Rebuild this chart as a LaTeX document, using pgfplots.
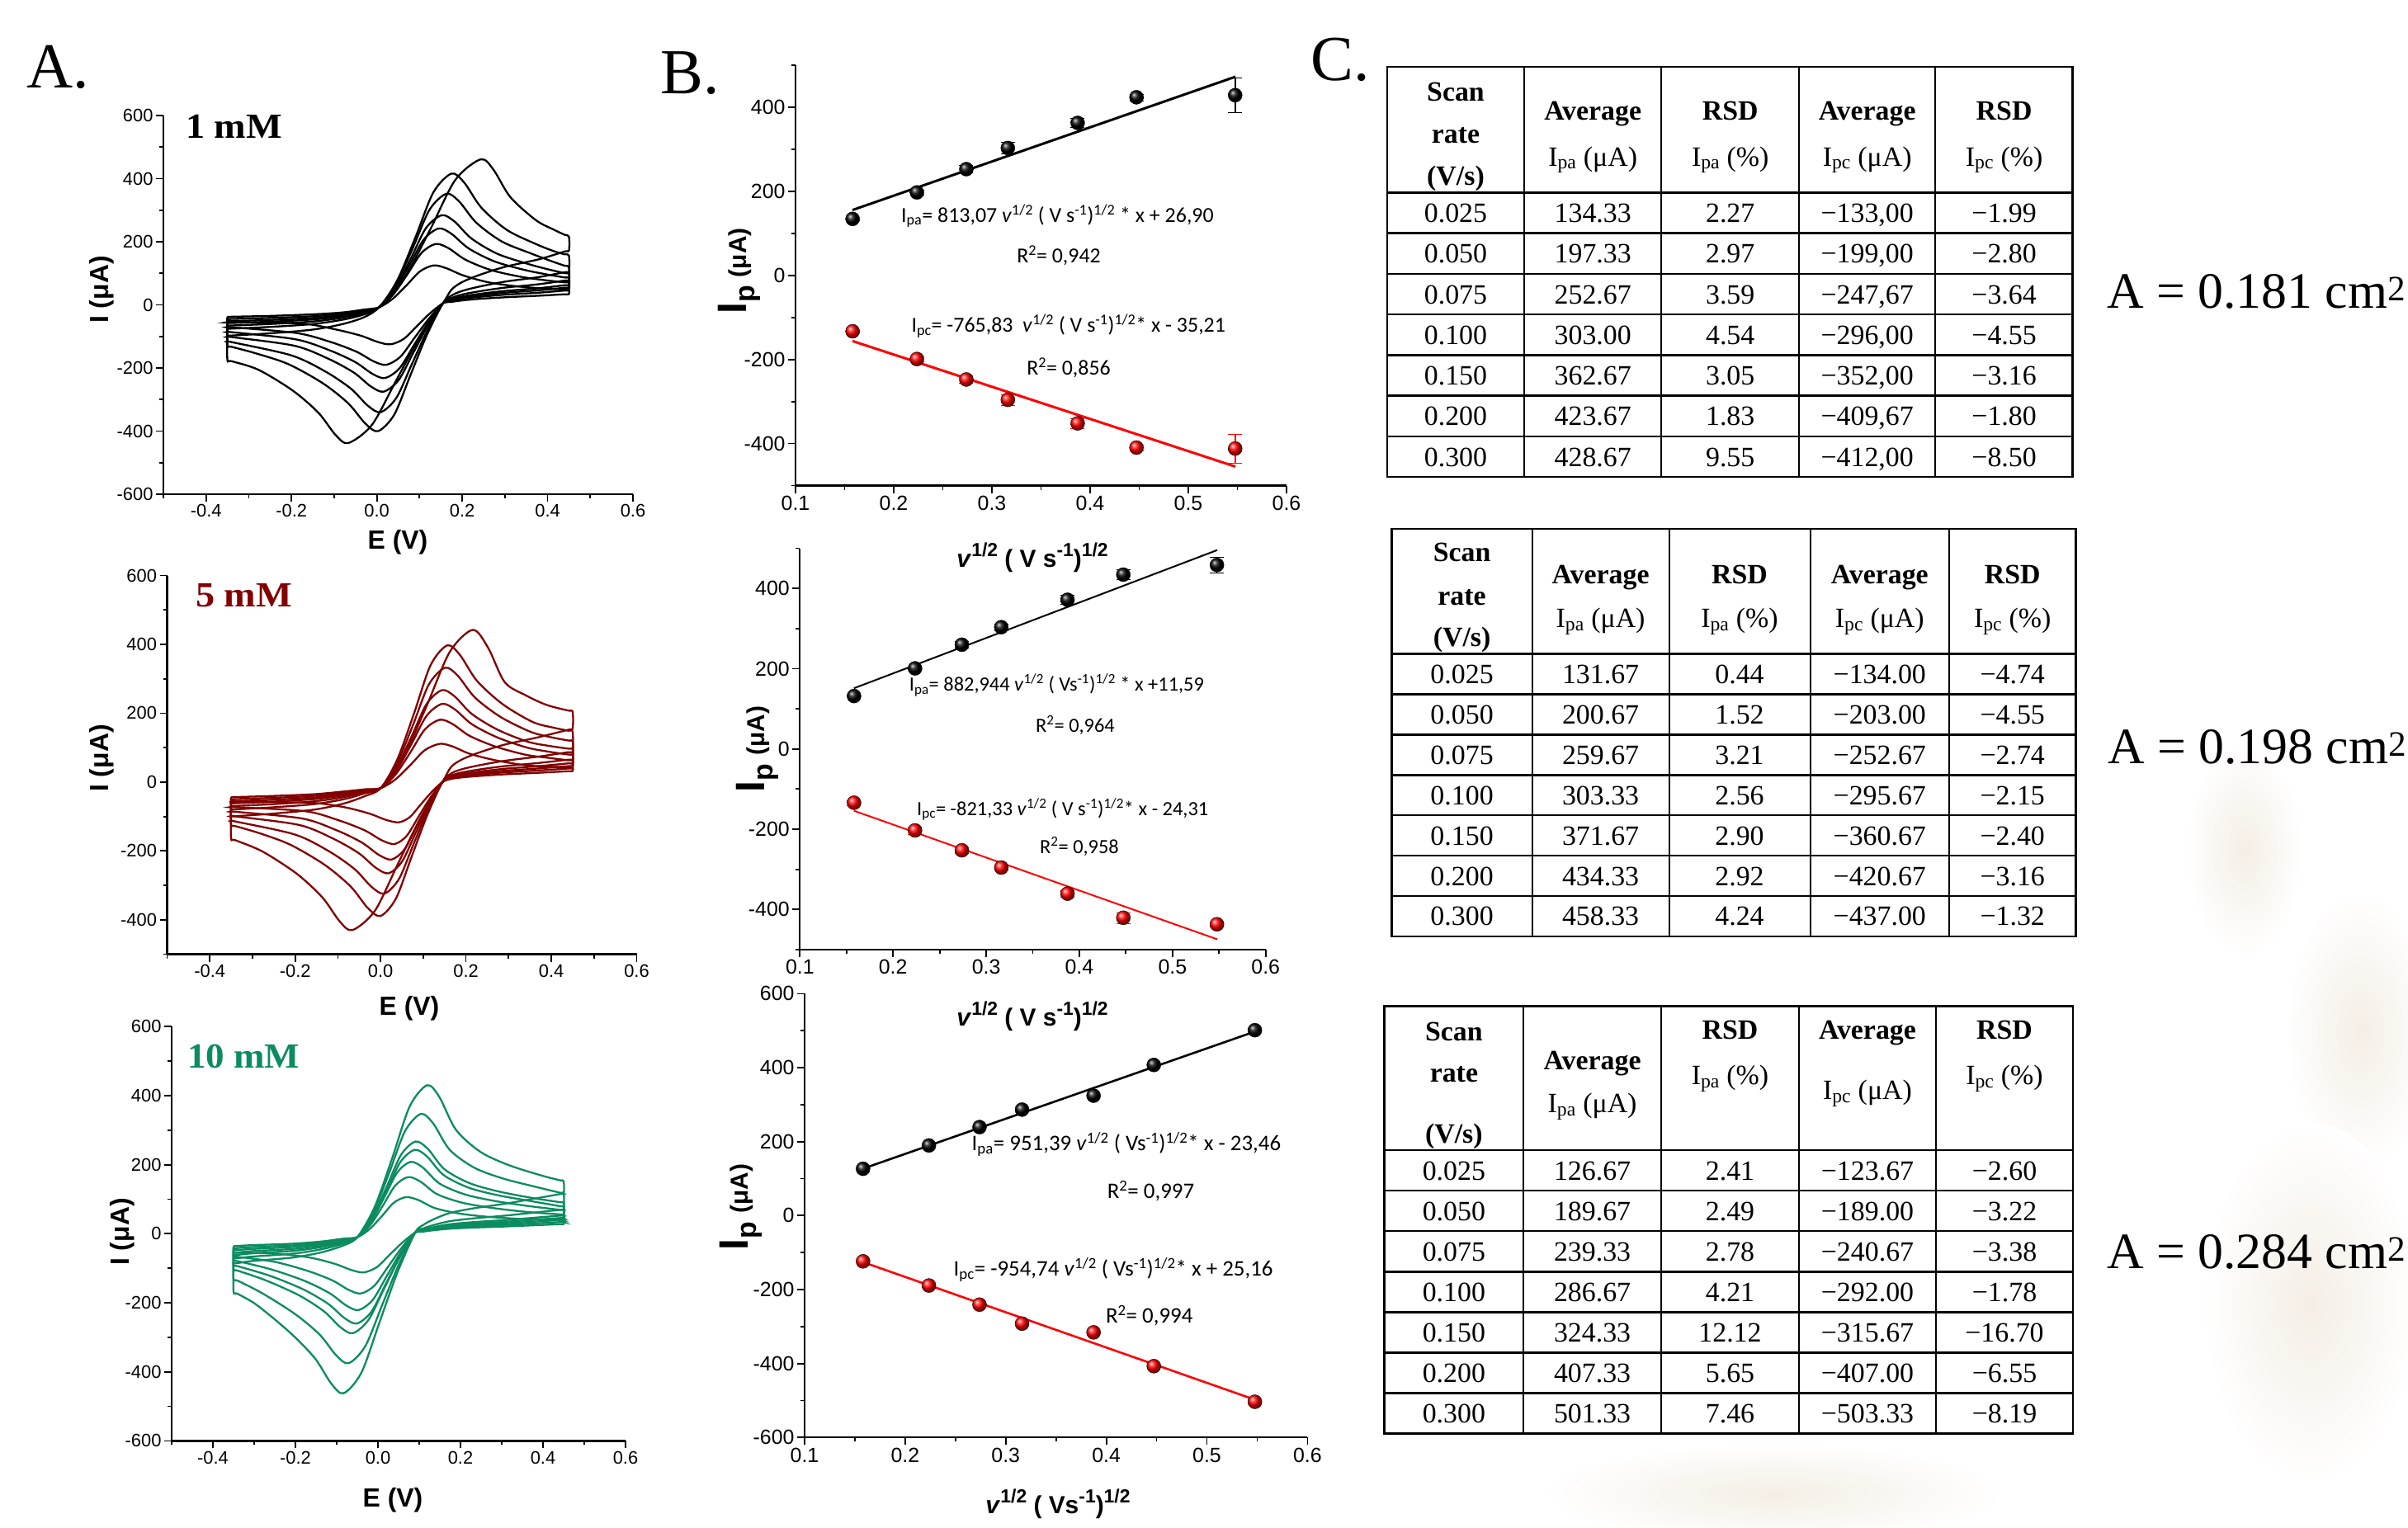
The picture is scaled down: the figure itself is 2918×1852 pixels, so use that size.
\documentclass[border=0pt]{standalone}
\usepackage{fontspec}
\setmainfont{Liberation Serif}
\newfontfamily\arialF{Liberation Sans}
\newfontfamily\calF{Carlito}
\usepackage{pgfplots}
\pgfplotsset{compat=1.18}
\definecolor{cvred}{RGB}{130,0,0}
\definecolor{cvgreen}{RGB}{10,140,95}
\definecolor{stain}{RGB}{244,238,229}

\pgfplotsset{
  cvaxis/.style={
    scale only axis, anchor=north west,
    axis x line*=bottom, axis y line*=left,
    xmin=-0.5, xmax=0.6,
    xtick={-0.4,-0.2,0,0.2,0.4,0.6},
    minor xtick={-0.5,-0.3,-0.1,0.1,0.3,0.5},
    tick align=outside,
    major tick length=9bp, minor tick length=5bp,
    tick style={line width=1.8bp, black},
    axis line style={line width=2.2bp, black},
    tick label style={font=\arialF\fontsize{22}{24}\selectfont},
    /pgf/number format/assume math mode=true,
    xticklabel style={/pgf/number format/.cd, fixed, fixed zerofill, precision=1},
  },
  baxis/.style={
    scale only axis, anchor=north west,
    axis x line*=bottom, axis y line*=left,
    xmin=0.1, xmax=0.6,
    xtick={0.1,0.2,0.3,0.4,0.5,0.6},
    minor xtick={0.15,0.25,0.35,0.45,0.55},
    tick align=outside,
    major tick length=9bp, minor tick length=5bp,
    tick style={line width=1.8bp, black},
    axis line style={line width=2.2bp, black},
    tick label style={font=\arialF\fontsize{25}{27}\selectfont},
    /pgf/number format/assume math mode=true,
    xticklabel style={/pgf/number format/.cd, fixed, fixed zerofill, precision=1},
  },
  cvk/.style={smooth, tension=0.5, line width=2.3bp, mark=none, #1},
}

\newcommand{\tgrid}[9]{%
  \pgfmathsetmacro{\tb}{#8+7*#9}%
  \foreach \cc in {#2,#3,#4,#5} {\draw[line width=2bp] (\cc,#7) -- (\cc,\tb);}
  \foreach \rr in {0,...,6} {\draw[line width=2.6bp] (#1,{#8+\rr*#9}) -- (#6,{#8+\rr*#9});}
  \draw[line width=2.6bp] (#1,#7) rectangle (#6,\tb);
}
\newcommand{\trow}[6]{%
  \node[anchor=base,inner sep=0] at (\xa,#1) {#2};
  \node[anchor=base,inner sep=0] at (\xb,#1) {#3};
  \node[anchor=base,inner sep=0] at (\xc,#1) {#4};
  \node[anchor=base,inner sep=0] at (\xd,#1) {#5};
  \node[anchor=base,inner sep=0] at (\xe,#1) {#6};
}
\newcommand{\thead}[5]{%
  \node[anchor=base,inner sep=0] at (\xa,#1) {\bfseries Scan};
  \node[anchor=base,inner sep=0] at (\xa,#2) {\bfseries rate};
  \node[anchor=base,inner sep=0] at (\xa,#3) {\bfseries (V/s)};
  \node[anchor=base,inner sep=0] at (\xb,#4) {\bfseries Average};
  \node[anchor=base,inner sep=0] at (\xb,#5) {I\textsubscript{pa} (μA)};
  \node[anchor=base,inner sep=0] at (\xc,#4) {\bfseries RSD};
  \node[anchor=base,inner sep=0] at (\xc,#5) {I\textsubscript{pa} (\%)};
  \node[anchor=base,inner sep=0] at (\xd,#4) {\bfseries Average};
  \node[anchor=base,inner sep=0] at (\xd,#5) {I\textsubscript{pc} (μA)};
  \node[anchor=base,inner sep=0] at (\xe,#4) {\bfseries RSD};
  \node[anchor=base,inner sep=0] at (\xe,#5) {I\textsubscript{pc} (\%)};
}
% big superscript for the B axis titles
\newcommand{\bsup}[1]{\raisebox{0.42em}{\fontsize{23}{24}\selectfont #1}}

\begin{document}
\begin{tikzpicture}
\path[use as bounding box] (0,0) rectangle (2918bp,-1852bp);
\fill[white] (0,0) rectangle (2918bp,-1852bp);

% faint background stains
\begin{scope}[x=1bp,y=-1bp]
\shade[inner color=stain, outer color=white] (2860,1250) ellipse [x radius=90, y radius=170];
\shade[inner color=stain, outer color=white] (2800,1580) ellipse [x radius=130, y radius=220];
\shade[inner color=stain, outer color=white] (2150,1810) ellipse [x radius=280, y radius=60];
\shade[inner color=stain, outer color=white] (2720,1030) ellipse [x radius=70, y radius=130];
\end{scope}

%================ PANEL A =================
\begin{axis}[cvaxis, at={(198bp,-140bp)}, width=569bp, height=459bp,
  ymin=-600, ymax=600, ytick={-600,-400,-200,0,200,400,600}, minor ytick={-500,-300,-100,100,300,500}]
\addplot[cvk=black] coordinates {(-0.35,-38) (-0.34,-37.6) (-0.25,-35) (-0.15,-30) (-0.08,-24) (-0.03,-15) (0.005,-8) (0.037,19) (0.069,61) (0.101,106) (0.133,125) (0.163,116) (0.203,93) (0.263,71) (0.333,58) (0.39,52) (0.44,48.6) (0.45,48) (0.45,34) (0.44,33.5) (0.38,29) (0.30,24) (0.24,19) (0.20,14) (0.175,9.5) (0.155,5) (0.124,-27.5) (0.0935,-68) (0.063,-108) (0.032,-125) (0.002,-117.5) (-0.038,-97.5) (-0.098,-77.5) (-0.178,-59) (-0.34,-55.3) (-0.35,-55) (-0.35,-38)};
\addplot[cvk=black] coordinates {(-0.35,-45) (-0.34,-44.6) (-0.25,-41.4) (-0.15,-36) (-0.08,-27.9) (-0.03,-18) (0.005,-8) (0.038,32) (0.0715,96.5) (0.105,165) (0.138,193) (0.168,179.5) (0.208,142.8) (0.268,110) (0.338,88.8) (0.395,78) (0.44,71.3) (0.45,70) (0.45,46) (0.44,45.3) (0.38,38.6) (0.30,32.2) (0.24,25.3) (0.20,19.3) (0.175,12.9) (0.155,5) (0.122,-43.8) (0.0885,-104.2) (0.055,-164.7) (0.022,-190) (-0.008,-178.6) (-0.048,-148.2) (-0.108,-117.8) (-0.188,-89.3) (-0.34,-71) (-0.35,-70) (-0.35,-45)};
\addplot[cvk=black] coordinates {(-0.35,-52) (-0.34,-51.6) (-0.25,-47.8) (-0.15,-41.6) (-0.08,-32.2) (-0.03,-20.8) (0.005,-8) (0.04,42) (0.075,122) (0.11,207) (0.145,242) (0.175,225) (0.215,179) (0.275,138) (0.345,111) (0.40,96) (0.44,86.8) (0.45,85) (0.45,55) (0.44,54.2) (0.38,46.2) (0.30,38.5) (0.24,30.3) (0.20,23.1) (0.175,15.4) (0.155,5) (0.121,-54.3) (0.087,-127.7) (0.053,-201.2) (0.019,-232) (-0.011,-218) (-0.051,-181) (-0.111,-143.8) (-0.191,-109) (-0.34,-86.5) (-0.35,-85) (-0.35,-52)};
\addplot[cvk=black] coordinates {(-0.35,-58) (-0.34,-57.5) (-0.25,-53.4) (-0.15,-46.4) (-0.08,-36) (-0.03,-23.2) (0.005,-8) (0.042,50.4) (0.0785,143.8) (0.115,243.1) (0.152,284) (0.182,264) (0.222,210) (0.282,162) (0.352,130.6) (0.40,113) (0.44,100.6) (0.45,98) (0.45,63) (0.44,62.1) (0.38,52.9) (0.30,44.1) (0.24,34.7) (0.20,26.5) (0.175,17.6) (0.155,5) (0.12,-65) (0.0855,-151.8) (0.051,-238.6) (0.016,-275) (-0.014,-258.5) (-0.054,-214.5) (-0.114,-170.5) (-0.194,-129.3) (-0.34,-102) (-0.35,-100) (-0.35,-58)};
\addplot[cvk=black] coordinates {(-0.35,-66) (-0.34,-65.4) (-0.25,-60.7) (-0.15,-52.8) (-0.08,-40.9) (-0.03,-26.4) (0.005,-8) (0.0445,64) (0.084,179.2) (0.1235,301.6) (0.163,352) (0.193,327.4) (0.233,260.5) (0.293,200.6) (0.363,161.9) (0.41,138) (0.44,124) (0.45,120) (0.45,78) (0.44,76.9) (0.38,65.5) (0.30,54.6) (0.24,42.9) (0.20,32.8) (0.175,21.8) (0.155,5) (0.1185,-81.3) (0.082,-188.2) (0.0455,-295.2) (0.009,-340) (-0.021,-319.6) (-0.061,-265.2) (-0.121,-210.8) (-0.201,-159.8) (-0.34,-118) (-0.35,-115) (-0.35,-66)};
\addplot[cvk=black] coordinates {(-0.35,-76) (-0.34,-75.3) (-0.25,-69.9) (-0.15,-60.8) (-0.08,-47.1) (-0.03,-30.4) (0.005,-8) (0.0475,76.8) (0.09,212.5) (0.1325,356.6) (0.175,416) (0.205,386.9) (0.245,307.8) (0.305,237.1) (0.375,191.4) (0.415,170) (0.44,160) (0.45,156) (0.45,105) (0.44,103.5) (0.38,88.2) (0.30,73.5) (0.24,57.8) (0.20,44.1) (0.175,29.4) (0.155,5) (0.117,-96.3) (0.079,-221.8) (0.041,-347.4) (0.003,-400) (-0.027,-376) (-0.067,-312) (-0.127,-248) (-0.207,-188) (-0.28,-155) (-0.34,-133) (-0.35,-130) (-0.35,-76)};
\addplot[cvk=black] coordinates {(-0.35,-98) (-0.34,-97.2) (-0.25,-90.2) (-0.15,-78.4) (-0.08,-60.8) (-0.03,-39.2) (0.005,-8) (0.0645,85.8) (0.124,235.9) (0.1835,395.3) (0.243,461) (0.273,428.7) (0.313,341.1) (0.373,268) (0.415,238) (0.44,222) (0.45,216) (0.45,172) (0.44,169) (0.38,144.5) (0.30,120.4) (0.24,94.6) (0.20,72.2) (0.175,48.2) (0.155,5) (0.0995,-105.8) (0.044,-243.1) (-0.0115,-380.4) (-0.067,-438) (-0.097,-411.7) (-0.137,-341.6) (-0.197,-271.6) (-0.277,-205.9) (-0.34,-178.5) (-0.35,-175) (-0.35,-98)};
\end{axis}

\begin{axis}[cvaxis, at={(202.5bp,-697.5bp)}, width=569bp, height=459bp,
  ymin=-500, ymax=600, ytick={-400,-200,0,200,400,600}, minor ytick={-500,-300,-100,100,300,500}]
\addplot[cvk=cvred] coordinates {(-0.35,-44) (-0.34,-43.6) (-0.255,-40.5) (-0.155,-35.2) (-0.085,-27.3) (-0.035,-21) (0,-18) (0.035,7.8) (0.0695,49.1) (0.104,92.9) (0.139,111) (0.169,103.2) (0.209,82.1) (0.269,63.3) (0.339,48.8) (0.39,45) (0.44,42.5) (0.45,42) (0.45,32) (0.44,31.5) (0.37,26.9) (0.29,22.4) (0.23,17.6) (0.19,13.4) (0.165,9) (0.145,0) (0.1195,-29.3) (0.094,-65.5) (0.0685,-101.8) (0.043,-117) (0.013,-110) (-0.027,-91.3) (-0.087,-72.5) (-0.167,-60) (-0.34,-58.2) (-0.35,-58) (-0.35,-44)};
\addplot[cvk=cvred] coordinates {(-0.35,-50) (-0.34,-49.6) (-0.255,-46) (-0.155,-40) (-0.085,-31) (-0.035,-22) (0,-18) (0.035,21.8) (0.0695,85.5) (0.104,153.1) (0.139,181) (0.169,168.3) (0.209,133.9) (0.269,103.2) (0.339,79.6) (0.395,70) (0.44,63.2) (0.45,62) (0.45,40) (0.44,39.4) (0.37,33.6) (0.29,28) (0.23,22) (0.19,16.8) (0.165,11.2) (0.145,0) (0.117,-45) (0.089,-100.8) (0.061,-156.6) (0.033,-180) (0.003,-169.2) (-0.037,-140.4) (-0.097,-111.6) (-0.177,-84.6) (-0.34,-73) (-0.35,-72) (-0.35,-50)};
\addplot[cvk=cvred] coordinates {(-0.35,-56) (-0.34,-55.6) (-0.255,-51.5) (-0.155,-44.8) (-0.085,-34.7) (-0.035,-23.5) (0,-18) (0.036,31) (0.072,109.4) (0.108,192.7) (0.144,227) (0.174,211.1) (0.214,168) (0.274,129.4) (0.344,99.9) (0.395,88) (0.44,79.8) (0.45,78) (0.45,47) (0.44,46.3) (0.37,39.5) (0.29,32.9) (0.23,25.9) (0.19,19.7) (0.165,13.2) (0.145,0) (0.115,-56.3) (0.0855,-126) (0.056,-195.8) (0.026,-225) (-0.004,-211.5) (-0.044,-175.5) (-0.104,-139.5) (-0.184,-105.8) (-0.34,-86.3) (-0.35,-85) (-0.35,-56)};
\addplot[cvk=cvred] coordinates {(-0.35,-62) (-0.34,-61.5) (-0.255,-57) (-0.155,-49.6) (-0.085,-38.4) (-0.035,-24.8) (0,-18) (0.036,39) (0.072,130.2) (0.108,227.1) (0.144,267) (0.174,248.3) (0.214,197.6) (0.274,152.2) (0.344,117.5) (0.395,105) (0.44,97) (0.45,95) (0.45,55) (0.44,54.2) (0.37,46.2) (0.29,38.5) (0.23,30.3) (0.19,23.1) (0.165,15.4) (0.145,0) (0.1135,-66.3) (0.082,-148.4) (0.0505,-230.6) (0.019,-265) (-0.011,-249.1) (-0.051,-206.7) (-0.111,-164.3) (-0.191,-124.6) (-0.34,-99.7) (-0.35,-98) (-0.35,-62)};
\addplot[cvk=cvred] coordinates {(-0.35,-70) (-0.34,-69.4) (-0.255,-64.4) (-0.155,-56) (-0.085,-43.4) (-0.035,-28) (0,-18) (0.0378,52) (0.0755,164) (0.113,283) (0.151,332) (0.181,308.8) (0.221,245.7) (0.281,189.2) (0.351,146.1) (0.40,130) (0.44,120.5) (0.45,118) (0.45,66) (0.44,65) (0.37,55.4) (0.29,46.2) (0.23,36.3) (0.19,27.7) (0.165,18.5) (0.145,0) (0.111,-81) (0.077,-181.4) (0.043,-281.9) (0.009,-324) (-0.021,-304.6) (-0.061,-252.7) (-0.121,-200.9) (-0.201,-152.3) (-0.34,-114.5) (-0.35,-112) (-0.35,-70)};
\addplot[cvk=cvred] coordinates {(-0.35,-80) (-0.34,-79.3) (-0.255,-73.6) (-0.155,-64) (-0.085,-49.6) (-0.035,-32) (0,-18) (0.039,65) (0.078,197.8) (0.117,338.9) (0.156,397) (0.186,369.2) (0.226,293.8) (0.286,226.3) (0.356,174.7) (0.405,158) (0.44,149) (0.45,146) (0.45,88) (0.44,86.8) (0.37,73.9) (0.29,61.6) (0.23,48.4) (0.19,37) (0.165,24.6) (0.145,0) (0.109,-97.3) (0.0725,-217.8) (0.036,-338.4) (0,-389) (-0.03,-365.7) (-0.07,-303.4) (-0.13,-241.2) (-0.21,-182.8) (-0.28,-150) (-0.34,-128) (-0.35,-125) (-0.35,-80)};
\addplot[cvk=cvred] coordinates {(-0.35,-100) (-0.34,-99.2) (-0.255,-92) (-0.155,-80) (-0.085,-62) (-0.035,-40) (0,-18) (0.054,74) (0.108,221.2) (0.162,377.6) (0.216,442) (0.252,390) (0.291,290) (0.34,252) (0.389,224) (0.44,207.5) (0.45,205) (0.45,155) (0.44,152) (0.37,130.2) (0.29,108.5) (0.23,85.3) (0.19,65.1) (0.165,43.4) (0.145,0) (0.0923,-107.5) (0.0395,-240.8) (-0.0133,-374.1) (-0.066,-430) (-0.096,-404.2) (-0.136,-335.4) (-0.196,-266.6) (-0.276,-202.1) (-0.34,-169) (-0.35,-165) (-0.35,-100)};
\end{axis}

\begin{axis}[cvaxis, at={(208bp,-1244.2bp)}, width=550bp, height=502.2bp,
  ymin=-600, ymax=600, ytick={-600,-400,-200,0,200,400,600}, minor ytick={-500,-300,-100,100,300,500}]
\addplot[cvk=cvgreen] coordinates {(-0.35,-36) (-0.34,-35.4) (-0.305,-33.1) (-0.205,-28.8) (-0.135,-22.3) (-0.085,-14.4) (-0.05,-10) (-0.0205,13.2) (0.009,50.3) (0.0385,89.8) (0.068,106) (0.098,97.5) (0.138,74.2) (0.198,58.3) (0.268,48.8) (0.348,43) (0.44,41.2) (0.45,41) (0.45,28) (0.44,27.6) (0.315,21.3) (0.235,17.9) (0.175,14.6) (0.135,10.1) (0.11,6.2) (0.09,3) (0.059,-25.8) (0.028,-61.4) (-0.003,-97) (-0.034,-112) (-0.064,-105.3) (-0.104,-87.4) (-0.164,-69.4) (-0.244,-58) (-0.34,-55.2) (-0.35,-55) (-0.35,-36)};
\addplot[cvk=cvgreen] coordinates {(-0.35,-42) (-0.34,-41.3) (-0.305,-38.6) (-0.205,-33.6) (-0.135,-26) (-0.085,-16.8) (-0.05,-10) (-0.019,24.8) (0.0115,80.5) (0.042,139.6) (0.073,164) (0.103,150.9) (0.143,114.8) (0.203,90.2) (0.273,75.4) (0.353,64) (0.44,56) (0.45,55) (0.45,34) (0.44,33.5) (0.315,25.8) (0.235,21.8) (0.175,17.7) (0.135,12.2) (0.11,7.5) (0.09,3) (0.0573,-41) (0.0245,-95.6) (-0.0083,-150.1) (-0.041,-173) (-0.071,-162.6) (-0.111,-134.9) (-0.171,-107.3) (-0.251,-81.3) (-0.34,-67) (-0.35,-66) (-0.35,-42)};
\addplot[cvk=cvgreen] coordinates {(-0.35,-48) (-0.34,-47.2) (-0.305,-44.2) (-0.205,-38.4) (-0.135,-29.8) (-0.085,-19.2) (-0.05,-10) (-0.0178,33.6) (0.0145,103.4) (0.0468,177.5) (0.079,208) (0.109,191.4) (0.149,145.6) (0.209,114.4) (0.279,95.7) (0.359,81.1) (0.44,69.4) (0.45,68) (0.45,40) (0.44,39.4) (0.315,30.4) (0.235,25.6) (0.175,20.8) (0.135,14.4) (0.11,8.8) (0.09,3) (0.0558,-53) (0.0215,-122.4) (-0.0128,-191.9) (-0.047,-221) (-0.077,-207.7) (-0.117,-172.4) (-0.177,-137) (-0.257,-103.9) (-0.34,-79.5) (-0.35,-78) (-0.35,-48)};
\addplot[cvk=cvgreen] coordinates {(-0.35,-55) (-0.34,-54.2) (-0.305,-50.6) (-0.205,-44) (-0.135,-34.1) (-0.085,-22) (-0.05,-10) (-0.0153,40.6) (0.0195,121.6) (0.0543,207.6) (0.089,243) (0.119,223.6) (0.159,170.1) (0.219,133.7) (0.289,111.8) (0.369,94.8) (0.44,80) (0.45,78) (0.45,46) (0.44,45.3) (0.315,35) (0.235,29.4) (0.175,23.9) (0.135,16.6) (0.11,10.1) (0.09,3) (0.0548,-62.8) (0.0195,-144.3) (-0.0158,-225.8) (-0.051,-260) (-0.081,-244.4) (-0.121,-202.8) (-0.181,-161.2) (-0.261,-122.2) (-0.34,-94) (-0.35,-92) (-0.35,-55)};
\addplot[cvk=cvgreen] coordinates {(-0.35,-62) (-0.34,-61.1) (-0.305,-57) (-0.205,-49.6) (-0.135,-38.4) (-0.085,-24.8) (-0.05,-10) (-0.0148,45.4) (0.0205,134) (0.0558,228.2) (0.091,267) (0.121,245.6) (0.161,186.9) (0.221,146.9) (0.291,122.8) (0.371,104.1) (0.44,91.5) (0.45,89) (0.45,53) (0.44,52.2) (0.315,40.3) (0.235,33.9) (0.175,27.6) (0.135,19.1) (0.11,11.7) (0.09,3) (0.0523,-69.8) (0.0145,-160) (-0.0233,-250.2) (-0.061,-288) (-0.091,-270.7) (-0.131,-224.6) (-0.191,-178.6) (-0.271,-135.4) (-0.34,-107) (-0.35,-104) (-0.35,-62)};
\addplot[cvk=cvgreen] coordinates {(-0.35,-72) (-0.34,-71) (-0.305,-66.2) (-0.205,-57.6) (-0.135,-44.6) (-0.085,-28.8) (-0.05,-10) (-0.0115,61.4) (0.027,175.6) (0.0655,297) (0.104,347) (0.134,319.2) (0.174,242.9) (0.234,190.9) (0.304,159.6) (0.384,135.3) (0.44,119) (0.45,116) (0.45,70) (0.44,69) (0.315,53.2) (0.235,44.8) (0.175,36.4) (0.135,25.2) (0.11,15.4) (0.09,3) (0.0498,-91.5) (0.0095,-208.7) (-0.0308,-325.9) (-0.071,-375) (-0.101,-352.5) (-0.141,-292.5) (-0.201,-232.5) (-0.281,-172) (-0.34,-136) (-0.35,-132) (-0.35,-72)};
\addplot[cvk=cvgreen] coordinates {(-0.35,-86) (-0.34,-85) (-0.305,-79.1) (-0.205,-68.8) (-0.135,-53.3) (-0.085,-34.4) (-0.05,-10) (-0.0078,78) (0.0345,218.8) (0.0768,368.4) (0.119,430) (0.149,395.6) (0.189,301) (0.249,236.5) (0.319,197.8) (0.399,167.7) (0.44,155) (0.45,152) (0.45,116) (0.44,114.5) (0.315,88.2) (0.235,74.2) (0.175,60.3) (0.135,41.8) (0.11,25.5) (0.09,3) (0.0468,-113.3) (0.0035,-257.4) (-0.0398,-401.6) (-0.083,-462) (-0.113,-434.3) (-0.153,-360.4) (-0.213,-286.4) (-0.293,-207) (-0.34,-174) (-0.35,-168) (-0.35,-86)};
\end{axis}

%================ PANEL B =================
\begin{axis}[baxis, at={(964bp,-79bp)}, width=595bp, height=509.5bp,
  ymin=-500, ymax=500, ytick={-400,-200,0,200,400}, minor ytick={-500,-300,-100,100,300,500}]
\addplot[black, line width=3bp] coordinates {(0.158,155.4) (0.548,472.5)};
\addplot[red, line width=3bp] coordinates {(0.158,-156.2) (0.548,-454.9)};
\addplot[only marks, mark=ball, ball color=black, mark size=8.5bp,
  error bars/.cd, y dir=both, y explicit, error bar style={line width=1.6bp, black}]
  coordinates {(0.1581,134.33) +- (0,3.05) (0.2236,197.33) +- (0,5.86) (0.2739,252.67) +- (0,9.07) (0.3162,303.00) +- (0,13.76) (0.3873,362.67) +- (0,11.06) (0.4472,423.67) +- (0,7.75) (0.5477,428.67) +- (0,40.94)};
\addplot[only marks, mark=ball, ball color=red, mark size=8.5bp,
  error bars/.cd, y dir=both, y explicit, error bar style={line width=1.6bp, red}]
  coordinates {(0.1581,-133.00) +- (0,2.65) (0.2236,-199.00) +- (0,5.57) (0.2739,-247.67) +- (0,9.02) (0.3162,-296.00) +- (0,13.47) (0.3873,-352.00) +- (0,11.12) (0.4472,-409.67) +- (0,7.37) (0.5477,-412.00) +- (0,35.02)};
\end{axis}

\begin{axis}[baxis, at={(969.3bp,-664.5bp)}, width=564.4bp, height=486.4bp,
  ymin=-500, ymax=500, ytick={-400,-200,0,200,400}, minor ytick={-500,-300,-100,100,300,500}]
\addplot[black, line width=2bp] coordinates {(0.158,151.1) (0.548,495.4)};
\addplot[red, line width=2bp] coordinates {(0.158,-154.1) (0.548,-474.4)};
\addplot[only marks, mark=ball, ball color=black, mark size=8.5bp,
  error bars/.cd, y dir=both, y explicit, error bar style={line width=1.6bp, black}]
  coordinates {(0.1581,131.67) +- (0,0.58) (0.2236,200.67) +- (0,3.05) (0.2739,259.67) +- (0,8.34) (0.3162,303.33) +- (0,7.77) (0.3873,371.67) +- (0,10.78) (0.4472,434.33) +- (0,12.68) (0.5477,458.33) +- (0,19.43)};
\addplot[only marks, mark=ball, ball color=red, mark size=8.5bp,
  error bars/.cd, y dir=both, y explicit, error bar style={line width=1.6bp, red}]
  coordinates {(0.1581,-134.00) +- (0,6.35) (0.2236,-203.00) +- (0,9.24) (0.2739,-252.67) +- (0,6.92) (0.3162,-295.67) +- (0,6.36) (0.3873,-360.67) +- (0,8.66) (0.4472,-420.67) +- (0,13.29) (0.5477,-437.00) +- (0,5.77)};
\end{axis}

\begin{axis}[baxis, at={(975bp,-1204.4bp)}, width=609.4bp, height=537.9bp,
  ymin=-600, ymax=600, ytick={-600,-400,-200,0,200,400,600}, minor ytick={-500,-300,-100,100,300,500}]
\addplot[black, line width=2.6bp] coordinates {(0.158,126.9) (0.548,497.9)};
\addplot[red, line width=2.6bp] coordinates {(0.158,-125.7) (0.548,-498.0)};
\addplot[only marks, mark=ball, ball color=black, mark size=8.5bp]
  coordinates {(0.1581,126.67) (0.2236,189.67) (0.2739,239.33) (0.3162,286.67) (0.3873,324.33) (0.4472,407.33) (0.5477,501.33)};
\addplot[only marks, mark=ball, ball color=red, mark size=8.5bp]
  coordinates {(0.1581,-123.67) (0.2236,-189.00) (0.2739,-240.67) (0.3162,-292.00) (0.3873,-315.67) (0.4472,-407.00) (0.5477,-503.33)};
\end{axis}

%================ TEXT =================
\begin{scope}[x=1bp,y=-1bp]
% panel letters
\node[anchor=base west,inner sep=0,font=\fontsize{78}{80}\selectfont] at (32,106) {A.};
\node[anchor=base west,inner sep=0,font=\fontsize{78}{80}\selectfont] at (800,113.6) {B.};
\node[anchor=base west,inner sep=0,font=\fontsize{78}{80}\selectfont] at (1588,97) {C.};
% concentrations
\node[anchor=base west,inner sep=0,font=\bfseries\fontsize{43}{45}\selectfont] at (225,167) {\scalebox{1.08}[1]{1 mM}};
\node[anchor=base west,inner sep=0,font=\bfseries\fontsize{43}{45}\selectfont,text=cvred] at (237,735) {\scalebox{1.08}[1]{5 mM}};
\node[anchor=base west,inner sep=0,font=\bfseries\fontsize{43}{45}\selectfont,text=cvgreen] at (227,1294) {\scalebox{1.05}[1]{10 mM}};
% A axis labels
\node[rotate=90,inner sep=0,font=\arialF\bfseries\fontsize{32}{34}\selectfont] at (123,351) {I (μA)};
\node[inner sep=0,font=\arialF\bfseries\fontsize{32}{34}\selectfont] at (482,657) {E (V)};
\node[rotate=90,inner sep=0,font=\arialF\bfseries\fontsize{32}{34}\selectfont] at (123,919) {I (μA)};
\node[inner sep=0,font=\arialF\bfseries\fontsize{32}{34}\selectfont] at (496,1222) {E (V)};
\node[rotate=90,inner sep=0,font=\arialF\bfseries\fontsize{32}{34}\selectfont] at (148,1493) {I (μA)};
\node[inner sep=0,font=\arialF\bfseries\fontsize{32}{34}\selectfont] at (476,1818) {E (V)};
% B axis labels
\node[rotate=90,inner sep=0] at (896,328.5) {\arialF\bfseries{\fontsize{50}{52}\selectfont I}\raisebox{-10bp}{\fontsize{34}{36}\selectfont p}\hspace{10bp}{\fontsize{30}{32}\selectfont (μA)}};
\node[rotate=90,inner sep=0] at (918,908) {\arialF\bfseries{\fontsize{50}{52}\selectfont I}\raisebox{-10bp}{\fontsize{34}{36}\selectfont p}\hspace{10bp}{\fontsize{30}{32}\selectfont (μA)}};
\node[rotate=90,inner sep=0] at (898,1463) {\arialF\bfseries{\fontsize{50}{52}\selectfont I}\raisebox{-10bp}{\fontsize{34}{36}\selectfont p}\hspace{10bp}{\fontsize{30}{32}\selectfont (μA)}};
\node[inner sep=0,font=\arialF\bfseries\fontsize{30}{32}\selectfont] at (1251,676) {\textit{v}\bsup{1/2} ( V s\bsup{-1})\bsup{1/2}};
\node[inner sep=0,font=\arialF\bfseries\fontsize{30}{32}\selectfont] at (1251,1232) {\textit{v}\bsup{1/2} ( V s\bsup{-1})\bsup{1/2}};
\node[inner sep=0,font=\arialF\bfseries\fontsize{30}{32}\selectfont] at (1282,1823) {\textit{v}\bsup{1/2} ( Vs\bsup{-1})\bsup{1/2}};
% B annotations
\begin{scope}[every node/.style={inner sep=0,font=\calF\fontsize{26}{28}\selectfont}]
\node[anchor=base west] at (1092,269) {I\textsubscript{pa}= 813,07 \textit{v}\textsuperscript{1/2} ( V s\textsuperscript{-1})\textsuperscript{1/2} * x + 26,90};
\node[anchor=base] at (1283,318.7) {R\textsuperscript{2}= 0,942};
\node[anchor=base west] at (1104.3,402.4) {I\textsubscript{pc}= -765,83 \ \textit{v}\textsuperscript{1/2} ( V s\textsuperscript{-1})\textsuperscript{1/2}* x - 35,21};
\node[anchor=base] at (1295,454) {R\textsuperscript{2}= 0,856};
\end{scope}
\begin{scope}[every node/.style={inner sep=0,font=\calF\fontsize{24.5}{26}\selectfont}]
\node[anchor=base west] at (1101.7,837.7) {I\textsubscript{pa}= 882,944 \textit{v}\textsuperscript{1/2} ( Vs\textsuperscript{-1})\textsuperscript{1/2} * x +11,59};
\node[anchor=base] at (1303,887) {R\textsuperscript{2}= 0,964};
\node[anchor=base west] at (1111,988) {I\textsubscript{pc}= -821,33 \textit{v}\textsuperscript{1/2} ( V s\textsuperscript{-1})\textsuperscript{1/2}* x - 24,31};
\node[anchor=base] at (1308,1034.2) {R\textsuperscript{2}= 0,958};
\end{scope}
\begin{scope}[every node/.style={inner sep=0,font=\calF\fontsize{27}{29}\selectfont}]
\node[anchor=base west] at (1177.5,1394.3) {I\textsubscript{pa}= 951,39 \textit{v}\textsuperscript{1/2} ( Vs\textsuperscript{-1})\textsuperscript{1/2}* x - 23,46};
\node[anchor=base] at (1394.5,1452.2) {R\textsuperscript{2}= 0,997};
\node[anchor=base west] at (1155.5,1546.5) {I\textsubscript{pc}= -954,74 \textit{v}\textsuperscript{1/2} ( Vs\textsuperscript{-1})\textsuperscript{1/2}* x + 25,16};
\node[anchor=base] at (1392.7,1603) {R\textsuperscript{2}= 0,994};
\end{scope}

%================ PANEL C tables =================
\begin{scope}[font=\fontsize{34}{36}\selectfont]
% table 1
\tgrid{1681}{1847}{2013.4}{2180}{2345.4}{2511.7}{81}{233.3}{49.26}
\def\xa{1764}\def\xb{1930.2}\def\xc{2096.7}\def\xd{2262.7}\def\xe{2428.6}
\thead{122}{173}{224}{145.4}{201}
\trow{269.4}{0.025}{134.33}{2.27}{−133,00}{−1.99}
\trow{318.7}{0.050}{197.33}{2.97}{−199,00}{−2.80}
\trow{368}{0.075}{252.67}{3.59}{−247,67}{−3.64}
\trow{417.2}{0.100}{303.00}{4.54}{−296,00}{−4.55}
\trow{466.5}{0.150}{362.67}{3.05}{−352,00}{−3.16}
\trow{515.7}{0.200}{423.67}{1.83}{−409,67}{−1.80}
\trow{565}{0.300}{428.67}{9.55}{−412,00}{−8.50}
% table 2
\tgrid{1686.5}{1856.6}{2022.6}{2193.5}{2362}{2515.3}{641}{792.5}{48.9}
\def\xa{1771.6}\def\xb{1939.6}\def\xc{2108}\def\xd{2277.8}\def\xe{2438.7}
\thead{680.8}{733.9}{783.6}{707.3}{760.4}
\trow{828.5}{0.025}{131.67}{0.44}{−134.00}{−4.74}
\trow{877.4}{0.050}{200.67}{1.52}{−203.00}{−4.55}
\trow{926.3}{0.075}{259.67}{3.21}{−252.67}{−2.74}
\trow{975.2}{0.100}{303.33}{2.56}{−295.67}{−2.15}
\trow{1024.1}{0.150}{371.67}{2.90}{−360.67}{−2.40}
\trow{1073}{0.200}{434.33}{2.92}{−420.67}{−3.16}
\trow{1121.9}{0.300}{458.33}{4.24}{−437.00}{−1.32}
% table 3
\tgrid{1677.7}{1846.1}{2013}{2179.9}{2346}{2512}{1219.6}{1394}{49.07}
\def\xa{1761.9}\def\xb{1929.6}\def\xc{2096.5}\def\xd{2263}\def\xe{2429}
\node[anchor=base,inner sep=0] at (\xa,1261) {\bfseries Scan};
\node[anchor=base,inner sep=0] at (\xa,1311) {\bfseries rate};
\node[anchor=base,inner sep=0] at (\xa,1385) {\bfseries (V/s)};
\node[anchor=base,inner sep=0] at (\xb,1296.7) {\bfseries Average};
\node[anchor=base,inner sep=0] at (\xb,1348.5) {I\textsubscript{pa} (μA)};
\node[anchor=base,inner sep=0] at (\xc,1259) {\bfseries RSD};
\node[anchor=base,inner sep=0] at (\xc,1314.6) {I\textsubscript{pa} (\%)};
\node[anchor=base,inner sep=0] at (\xd,1259) {\bfseries Average};
\node[anchor=base,inner sep=0] at (\xd,1332.4) {I\textsubscript{pc} (μA)};
\node[anchor=base,inner sep=0] at (\xe,1259) {\bfseries RSD};
\node[anchor=base,inner sep=0] at (\xe,1314.6) {I\textsubscript{pc} (\%)};
\trow{1430}{0.025}{126.67}{2.41}{−123.67}{−2.60}
\trow{1479.1}{0.050}{189.67}{2.49}{−189.00}{−3.22}
\trow{1528.2}{0.075}{239.33}{2.78}{−240.67}{−3.38}
\trow{1577.3}{0.100}{286.67}{4.21}{−292.00}{−1.78}
\trow{1626.3}{0.150}{324.33}{12.12}{−315.67}{−16.70}
\trow{1675.4}{0.200}{407.33}{5.65}{−407.00}{−6.55}
\trow{1724.5}{0.300}{501.33}{7.46}{−503.33}{−8.19}
\end{scope}
% area labels
\node[anchor=base west,inner sep=0,font=\fontsize{62}{64}\selectfont] at (2553,373.7) {A = 0.181 cm\textsuperscript{2}};
\node[anchor=base west,inner sep=0,font=\fontsize{62}{64}\selectfont] at (2554,925) {A = 0.198 cm\textsuperscript{2}};
\node[anchor=base west,inner sep=0,font=\fontsize{62}{64}\selectfont] at (2553,1537.5) {A = 0.284 cm\textsuperscript{2}};
\end{scope}
\end{tikzpicture}
\end{document}
